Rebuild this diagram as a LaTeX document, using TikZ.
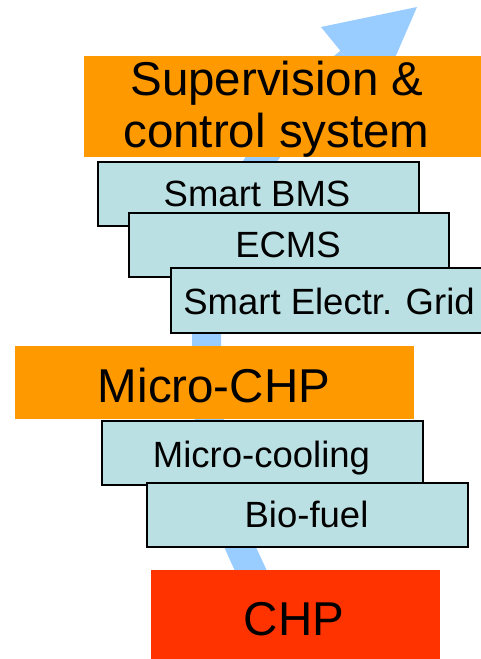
\documentclass[tikz,border=0pt]{standalone}
\usepackage{fontspec}
\setmainfont{Liberation Sans}
\definecolor{boxcyan}{HTML}{BBE0E3}
\definecolor{suporange}{HTML}{FF9900}
\definecolor{chpred}{HTML}{FF3300}
\definecolor{flowblue}{HTML}{99CCFF}
\begin{document}
\begin{tikzpicture}[x=1pt,y=-1pt,
  panel/.style={draw=black, line width=1.8pt, fill=boxcyan, inner sep=0pt,
    anchor=north west, minimum height=64pt},
  block/.style={inner sep=0pt, anchor=north west},
  bigtext/.style={inner sep=0pt, anchor=base, font=\fontsize{47.5}{52}\selectfont},
  smalltext/.style={inner sep=0pt, anchor=base, font=\fontsize{36.5}{42}\selectfont}]
\clip (0,0) rectangle (481,659);
\fill[white] (0,0) rectangle (481,659);

% rising flow arrow behind the stack
\coordinate (flowstart) at (279,631);
\coordinate (flowlow) at (245,558);
\coordinate (flowmid) at (206.5,340);
\coordinate (flowend) at (349.5,62);
\draw[flowblue, line width=29pt] (flowstart) -- (flowlow)
  .. controls (211,485) and (206.5,420) .. (flowmid)
  .. controls (206.5,220) and (272,125.2) .. (flowend);
\coordinate (tip) at (417,7);
\coordinate (wingl) at (321,27);
\coordinate (wingr) at (378,97);
\fill[flowblue] (wingl) -- (tip) -- (wingr) -- cycle;

% top level
\node[block, fill=suporange, minimum width=400pt, minimum height=101pt] (sup) at (84,56) {};
\node[bigtext] (supa) at (277,95) {Supervision \&};
\node[bigtext] (supb) at (276.5,147) {control system};

\node[panel, minimum width=321pt] (bms) at (97,161) {};
\node[smalltext] (bmst) at (257,206) {Smart BMS};
\node[panel, minimum width=320pt] (ecms) at (128,212) {};
\node[smalltext] (ecmst) at (288,257) {ECMS};
\node[panel, minimum width=318pt, minimum height=65pt] (grid) at (170,267) {};
\node[smalltext] (gridt) at (329,314) {Smart Electr. Grid};

% middle level
\node[block, fill=suporange, minimum width=399pt, minimum height=73pt] (mchp) at (15,346) {};
\node[bigtext] (mchpt) at (214,402) {Micro-CHP};
\node[panel, minimum width=321pt] (cool) at (101,420) {};
\node[smalltext] (coolt) at (261.5,467) {Micro-cooling};
\node[panel, minimum width=321pt] (bio) at (146,482) {};
\node[smalltext] (biot) at (306.5,527) {Bio-fuel};

% base level
\node[block, fill=chpred, minimum width=289pt, minimum height=95pt] (chp) at (151,570) {};
\node[bigtext] (chpt) at (294,635) {CHP};
\end{tikzpicture}
\end{document}
